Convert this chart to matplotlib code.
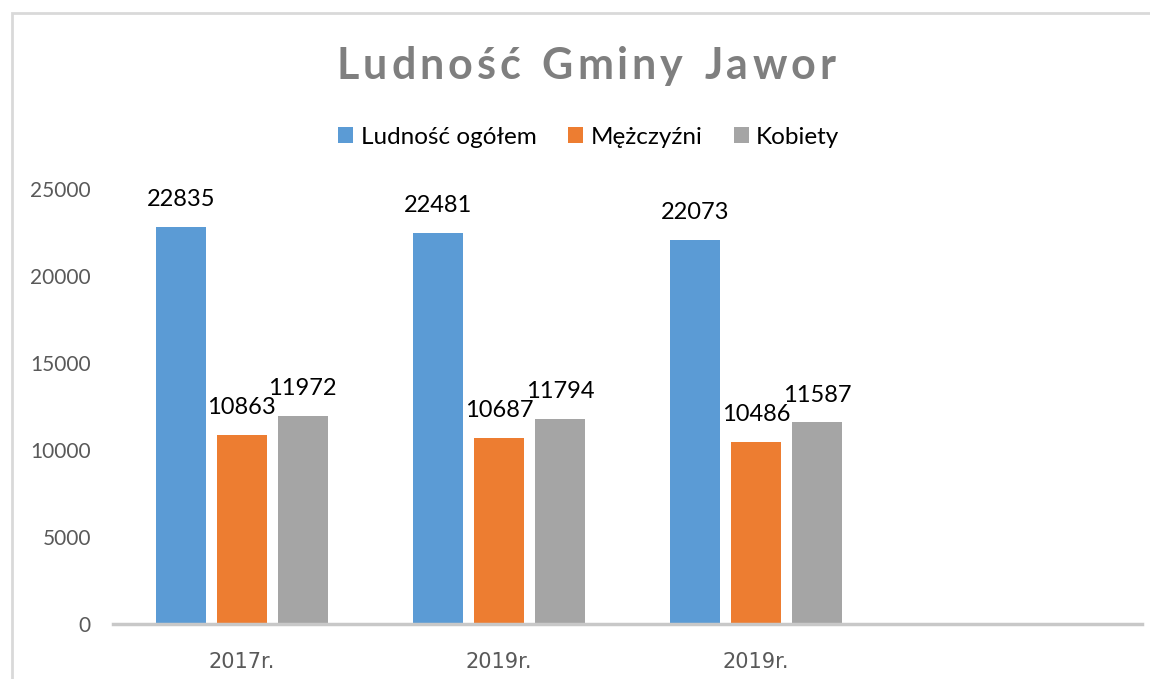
import numpy as np
import matplotlib.pyplot as plt
from matplotlib.patches import Rectangle

# dane
lata = ["2017r.", "2019r.", "2019r.", ""]
ogolem = [22835, 22481, 22073]
mezczyzni = [10863, 10687, 10486]
kobiety = [11972, 11794, 11587]

serie = [ogolem, mezczyzni, kobiety]
nazwy = ["Ludność ogółem", "Mężczyźni", "Kobiety"]
kolory = ["#5B9BD5", "#ED7D31", "#A5A5A5"]
tytul = "Ludność Gminy Jawor"

plt.rcParams['font.family'] = ['Lato', 'DejaVu Sans']

fig = plt.figure(figsize=(11.5, 6.79), dpi=100)
ax = fig.add_axes([0.0983, 0.081, 0.8947, 0.6407])

x = np.arange(len(lata))
w = 0.195
step = 0.237
for i, (vals, name, c) in enumerate(zip(serie, nazwy, kolory)):
    xs = x[:len(vals)] + (i - 1) * step
    bars = ax.bar(xs, vals, width=w, color=c, label=name, zorder=2)
    for b, v in zip(bars, vals):
        ax.annotate(str(v), (b.get_x() + b.get_width() / 2, v),
                    xytext=(0, 12), textcoords='offset points',
                    ha='center', va='bottom', fontsize=17, color='black')

ax.set_xlim(-0.5, len(lata) - 0.5)
ax.set_ylim(0, 25000)
ax.set_yticks(np.arange(0, 25001, 5000))
ax.set_xticks(x)
ax.set_xticklabels(lata, family=['Liberation Sans Narrow', 'DejaVu Sans'],
                   fontsize=15, color='#595959')
ax.tick_params(axis='y', length=0, pad=16, labelsize=15, labelcolor='#595959')
ax.tick_params(axis='x', length=0, pad=20)
for s in ['top', 'right', 'left']:
    ax.spines[s].set_visible(False)
ax.spines['bottom'].set_color('#C8C8C8')
ax.spines['bottom'].set_linewidth(2.5)

# tytuł z rozstrzelonymi literami
renderer = fig.canvas.get_renderer()
odstep = 4.0  # px
szer = []
for ch in tytul:
    t = fig.text(0, 0, ch if ch != ' ' else 'n', fontsize=31, fontweight='bold')
    szer.append(t.get_window_extent(renderer).width * (0.55 if ch == ' ' else 1))
    t.remove()
calosc = sum(szer) + odstep * (len(tytul) - 1)
x0 = 586 - calosc / 2
for ch, sw in zip(tytul, szer):
    fig.text(x0 / 1150, 0.903, ch, ha='left', va='center', fontsize=31,
             fontweight='bold', color='#7F7F7F')
    x0 += sw + odstep

fig.legend(loc='center', bbox_to_anchor=(0.512, 0.798), ncol=3, frameon=False,
           fontsize=17.5, handlelength=0.62, handleheight=0.62, handletextpad=0.3,
           columnspacing=1.3)

# ramka wykresu
fig.patches.append(Rectangle((12 / 1150, -0.1), 1.2, (679 - 13) / 679 + 0.1,
                             transform=fig.transFigure, fill=False,
                             edgecolor='#D9D9D9', linewidth=2))

fig.savefig("out.png", dpi=100)
